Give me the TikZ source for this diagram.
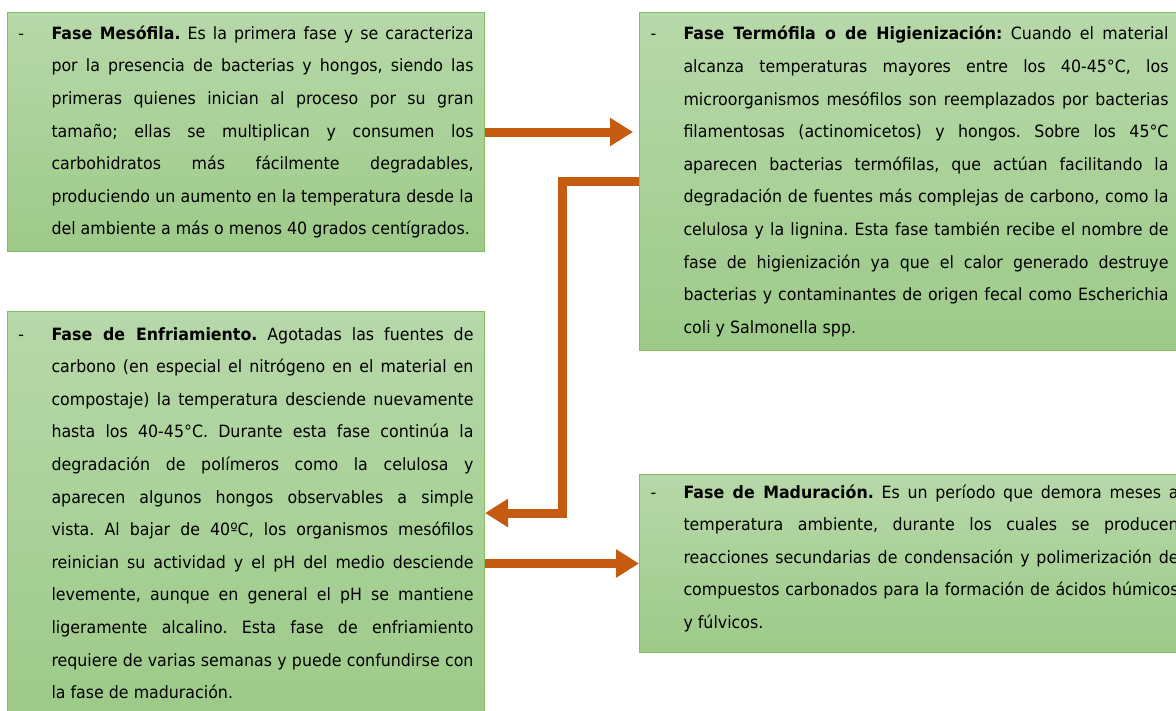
\documentclass[tikz,border=0pt]{standalone}
\usepackage{fontspec}
\setmainfont{DejaVu Sans}[FakeStretch=0.935]
\usetikzlibrary{arrows.meta}

\definecolor{phasetop}{HTML}{B7D8A9}
\definecolor{phasebot}{HTML}{9DCA88}
\definecolor{phaseline}{HTML}{84BC63}
\definecolor{flowcol}{HTML}{C55A11}

\newcommand{\phasehead}[1]{\noindent\frenchspacing\hangindent=24.75pt\hangafter=0\hspace*{-24.75pt}\makebox[24.75pt][l]{-}\textbf{#1}}

\tikzset{
  phase/.style={draw=phaseline, line width=0.75pt, top color=phasetop, bottom color=phasebot,
    anchor=north west, inner xsep=8.25pt, inner ysep=0pt, align=justify,
    font=\fontsize{12.7pt}{24.45pt}\selectfont},
  flow/.style={draw=flowcol, line width=6.75pt, -{Triangle[length=17.25pt,width=20.25pt]}}
}

\begin{document}
\begin{tikzpicture}[x=0.75pt,y=-0.75pt]
    \clip (0,0) rectangle (1176,710);
    \fill[white] (0,0) rectangle (1176,710);

    % Phase boxes
    \node[phase, text width=341.25pt, minimum width=357.75pt, minimum height=179.25pt] (meso) at (7,12)
        {\phasehead{Fase Mesófila.} Es la primera fase y se caracteriza\linebreak
        por la presencia de bacterias y hongos, siendo las\linebreak
        primeras quienes inician al proceso por su gran\linebreak
        tamaño; ellas se multiplican y consumen los\linebreak
        carbohidratos más fácilmente degradables,\linebreak
        produciendo un aumento en la temperatura desde la\linebreak
        del ambiente a más o menos 40 grados centígrados.\par};

    \node[phase, text width=388.5pt, minimum width=405pt, minimum height=253.5pt] (termo) at (639,12)
        {\phasehead{Fase Termófila o de Higienización:} Cuando el material\linebreak
        alcanza temperaturas mayores entre los 40-45°C, los\linebreak
        microorganismos mesófilos son reemplazados por bacterias\linebreak
        filamentosas (actinomicetos) y hongos. Sobre los 45°C\linebreak
        aparecen bacterias termófilas, que actúan facilitando la\linebreak
        degradación de fuentes más complejas de carbono, como la\linebreak
        celulosa y la lignina. Esta fase también recibe el nombre de\linebreak
        fase de higienización ya que el calor generado destruye\linebreak
        bacterias y contaminantes de origen fecal como Escherichia\linebreak
        coli y Salmonella spp.\par};

    \node[phase, text width=341.25pt, minimum width=357.75pt, minimum height=302.25pt] (enfr) at (7,311)
        {\phasehead{Fase de Enfriamiento.} Agotadas las fuentes de\linebreak
        carbono (en especial el nitrógeno en el material en\linebreak
        compostaje) la temperatura desciende nuevamente\linebreak
        hasta los 40-45°C. Durante esta fase continúa la\linebreak
        degradación de polímeros como la celulosa y\linebreak
        aparecen algunos hongos observables a simple\linebreak
        vista. Al bajar de 40ºC, los organismos mesófilos\linebreak
        reinician su actividad y el pH del medio desciende\linebreak
        levemente, aunque en general el pH se mantiene\linebreak
        ligeramente alcalino. Esta fase de enfriamiento\linebreak
        requiere de varias semanas y puede confundirse con\linebreak
        la fase de maduración.\par};

    \node[phase, text width=396pt, minimum width=412.5pt, minimum height=133.5pt, text depth=108.3pt] (madur) at (639,474)
        {\phasehead{Fase de Maduración.} Es un período que demora meses a\linebreak
        temperatura ambiente, durante los cuales se producen\linebreak
        reacciones secundarias de condensación y polimerización de\linebreak
        compuestos carbonados para la formación de ácidos húmicos\linebreak
        y fúlvicos.\par};

    % Arrows between the phases
    \draw[flow, shorten >=4.5pt] (meso.east) -- (meso.east -| termo.west);
    \draw[flow] (termo.west) -- ++(-77,0) |- (enfr.east);
    \draw[flow] (madur.west -| enfr.east) -- (madur.west);
\end{tikzpicture}
\end{document}
